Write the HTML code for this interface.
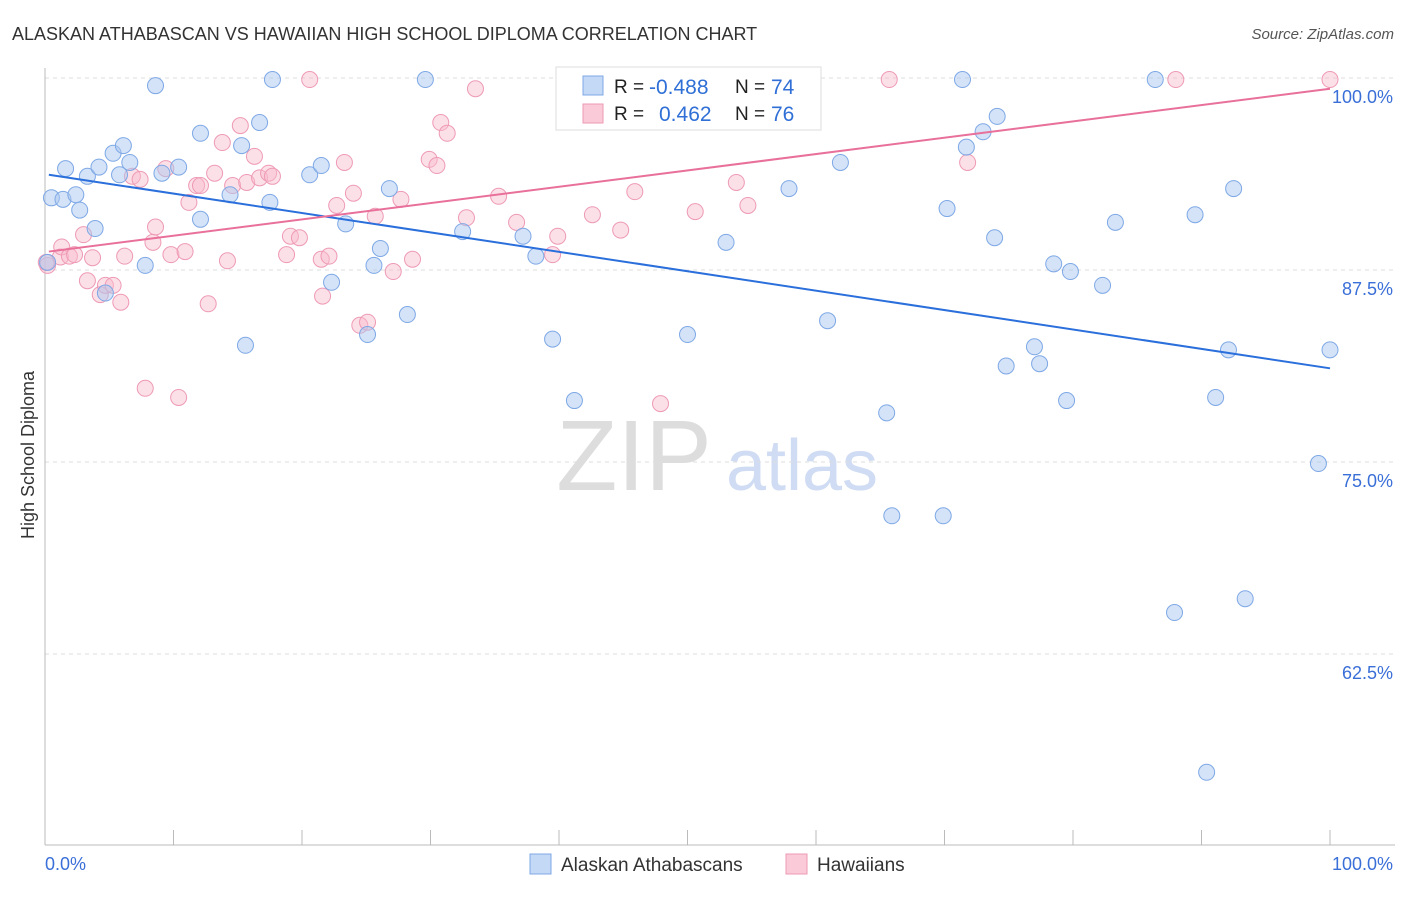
<!DOCTYPE html>
<html><head><meta charset="utf-8"><style>
body{margin:0;background:#fff;font-family:"Liberation Sans",sans-serif;}
svg text{font-family:"Liberation Sans",sans-serif;}
</style></head><body>
<svg id="chart" width="1406" height="892">
<text x="12" y="40" font-size="18" fill="#333">ALASKAN ATHABASCAN VS HAWAIIAN HIGH SCHOOL DIPLOMA CORRELATION CHART</text>
<text x="1394" y="39" font-size="15" fill="#555" text-anchor="end" font-style="italic">Source: ZipAtlas.com</text>
<text x="634" y="490" font-size="100" fill="#ddd" font-family="Liberation Serif" text-anchor="middle">ZIP</text>
<text x="802" y="490" font-size="72" fill="#cfdcf3" text-anchor="middle">atlas</text>
<text x="34" y="455" font-size="18" fill="#333" text-anchor="middle" transform="rotate(-90 34 455)">High School Diploma</text>
<g id="grid"></g><g id="pts"></g><g id="lines"></g>
<g>
<rect x="556" y="67" width="265" height="63" fill="#fff" stroke="#ddd"/>
<rect x="583" y="76" width="20" height="19" fill="#c4d9f6" stroke="#7ea8e6"/>
<rect x="583" y="104" width="20" height="19" fill="#fbcad8" stroke="#ee9ab5"/>
<text x="614" y="93" font-size="19" fill="#222">R =</text><text x="649" y="94" font-size="21" fill="#2f6fd6">-0.488</text>
<text x="735" y="93" font-size="19" fill="#222">N =</text><text x="771" y="94" font-size="21" fill="#2f6fd6">74</text>
<text x="614" y="120" font-size="19" fill="#222">R =</text><text x="659" y="121" font-size="21" fill="#2f6fd6">0.462</text>
<text x="735" y="120" font-size="19" fill="#222">N =</text><text x="771" y="121" font-size="21" fill="#2f6fd6">76</text>
</g>
<text x="45" y="870" font-size="18" fill="#3a6fd8">0.0%</text>
<text x="1393" y="870" font-size="18" fill="#3a6fd8" text-anchor="end">100.0%</text>
<rect x="530" y="854" width="21" height="20" fill="#c4d9f6" stroke="#7ea8e6"/>
<text x="561" y="871" font-size="19" fill="#333">Alaskan Athabascans</text>
<rect x="786" y="854" width="21" height="20" fill="#fbcad8" stroke="#ee9ab5"/>
<text x="817" y="871" font-size="19" fill="#333">Hawaiians</text>
</svg>
<script>
const yTicks=[100,87.5,75,62.5];
const yTickLabels=["100.0%","87.5%","75.0%","62.5%"];
const blueX=[0.5,1.6,1.4,2.4,2.7,3.3,3.9,4.2,5.3,5.8,6.1,6.6,7.8,8.6,9.1,10.4,12.1,12.1,14.4,15.3,15.6,16.7,17.5,17.7,20.6,21.5,22.3,23.4,25.1,25.6,26.1,26.8,28.2,29.6,32.5,37.2,38.2,39.5,41.2,50.0,53.0,57.9,60.9,61.9,65.5,65.9,69.9,70.2,71.4,71.7,73.0,73.9,74.1,74.8,77.0,77.4,78.5,79.5,79.8,82.3,83.3,86.4,87.9,89.5,90.4,91.1,92.1,92.5,93.4,99.1,100,0.2,4.7];
const blueY=[92.2,94.1,92.1,92.4,91.4,93.6,90.2,94.2,95.1,93.7,95.6,94.5,87.8,99.5,93.8,94.2,96.4,90.8,92.4,95.6,82.6,97.1,91.9,99.9,93.7,94.3,86.7,90.5,83.3,87.8,88.9,92.8,84.6,99.9,90.0,89.7,88.4,83.0,79.0,83.3,89.3,92.8,84.2,94.5,78.2,71.5,71.5,91.5,99.9,95.5,96.5,89.6,97.5,81.25,82.5,81.4,87.9,79.0,87.4,86.5,90.6,99.9,65.2,91.1,54.8,79.2,82.3,92.8,66.1,74.9,82.3,88.0,86.0];
const pinkX=[0.2,1.2,1.3,1.9,2.3,3.0,3.3,3.7,4.3,4.7,5.3,5.9,6.2,6.8,7.4,7.8,8.4,8.6,9.4,9.8,10.4,10.9,11.2,11.8,12.1,12.7,13.2,13.8,14.2,14.6,15.2,15.7,16.3,16.7,17.4,17.7,18.8,19.1,19.8,20.6,21.5,21.6,22.1,22.7,23.3,24.0,24.5,25.1,25.7,27.1,27.7,28.6,29.9,30.5,30.8,31.3,32.8,33.5,35.3,36.7,39.5,39.9,42.6,44.5,44.8,45.9,47.9,50.6,53.8,54.7,65.7,71.8,88.0,100,0.1];
const pinkY=[87.8,88.35,89.0,88.4,88.5,89.8,86.8,88.3,85.9,86.5,86.5,85.4,88.4,93.6,93.4,79.8,89.3,90.3,94.1,88.5,79.2,88.7,91.9,93.0,93.0,85.3,93.8,95.8,88.1,93.0,96.9,93.2,94.9,93.5,93.8,93.6,88.5,89.7,89.6,99.9,88.2,85.8,88.4,91.7,94.5,92.5,83.9,84.1,91.0,87.4,92.1,88.2,94.7,94.3,97.1,96.4,90.9,99.3,92.3,90.6,88.5,89.7,91.1,97.5,90.1,92.6,78.8,91.3,93.2,91.7,99.9,94.5,99.9,99.9,88.0];
const blueLine=[93.7,81.1];
const pinkLine=[88.7,99.3];
const NS="http://www.w3.org/2000/svg";
const sx=v=>45+v*12.85, sy=v=>78+(100-v)*15.36;
function mk(t,a,p){const e=document.createElementNS(NS,t);for(const k in a)e.setAttribute(k,a[k]);p.appendChild(e);return e;}
const grid=document.getElementById('grid');
yTicks.forEach((t,i)=>{
 const l=mk('line',{x1:45,x2:1395,y1:sy(t),y2:sy(t),stroke:'#ddd','stroke-dasharray':'4,4'},grid);
 
 
 const tx=mk('text',{x:1393,y:sy(t)+25,'font-size':18,fill:'#3a6fd8','text-anchor':'end'},grid);
 tx.textContent=yTickLabels[i];
 
 
});
mk('line',{x1:45,x2:45,y1:68,y2:845,stroke:'#bbb'},grid);
mk('line',{x1:45,x2:1395,y1:845,y2:845,stroke:'#bbb'},grid);
for(let i=0;i<=10;i++){mk('line',{x1:sx(i*10),x2:sx(i*10),y1:830,y2:845,stroke:'#bbb'},grid);}
const pts=document.getElementById('pts');
pinkX.forEach((x,i)=>{
 const c=mk('circle',{cx:sx(x),cy:sy(pinkY[i]),r:8,fill:'rgba(248,186,205,0.45)',stroke:'#ee9ab5','stroke-width':1},pts);
 
 
});
blueX.forEach((x,i)=>{
 const c=mk('circle',{cx:sx(x),cy:sy(blueY[i]),r:8,fill:'rgba(170,200,240,0.5)',stroke:'#7ea8e6','stroke-width':1},pts);
 
 
});
const lines=document.getElementById('lines');
const bl=mk('line',{x1:sx(0.3),y1:sy(blueLine[0]),x2:sx(100),y2:sy(blueLine[1]),stroke:'#2a6fdb','stroke-width':2},lines);


const pl=mk('line',{x1:sx(0.3),y1:sy(pinkLine[0]),x2:sx(100),y2:sy(pinkLine[1]),stroke:'#e8709a','stroke-width':2},lines);


</script>
</body></html>
